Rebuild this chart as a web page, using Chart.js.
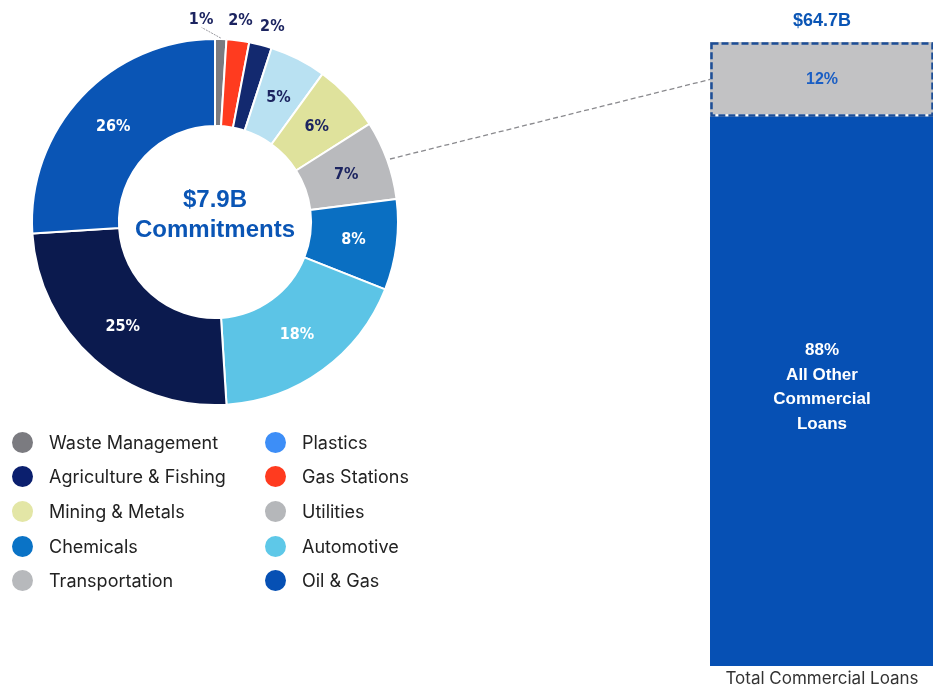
<!DOCTYPE html>
<html lang="en">
<head>
<meta charset="UTF-8">
<title>Commitments vs Total Commercial Loans</title>
<script src="https://cdn.jsdelivr.net/npm/chart.js"></script>
<style>
  html, body { margin: 0; padding: 0; background: #ffffff; overflow: hidden; }
  body { width: 933px; height: 686px; position: relative; font-family: Inter, 'Noto Sans', sans-serif; }
  #donutBox { position: absolute; left: 0; top: 7px; width: 430px; height: 430px; }
  #barBox { position: absolute; left: 710px; top: 0; width: 224px; height: 691px; }
  #overlay { position: absolute; left: 0; top: 0; pointer-events: none; }
  #legend { position: absolute; left: 12px; top: 425px; display: grid; grid-auto-flow: column;
            grid-template-columns: 253px auto; grid-template-rows: repeat(5, 34.6px); }
  .item { display: flex; align-items: center; font-size: 18px; color: #222; }
  .dot { width: 21px; height: 21px; border-radius: 50%; margin-right: 16px; flex: none; }
</style>
</head>
<body>
<div id="donutBox"><canvas id="donutChart"></canvas></div>
<div id="barBox"><canvas id="barChart"></canvas></div>
<div id="legend"></div>
<canvas id="overlay" width="933" height="686"></canvas>

<script>
// Doughnut slices, clockwise from 12 o'clock
const sliceNames = ['Waste Management', 'Gas Stations', 'Plastics', 'Utilities', 'Mining & Metals',
                    'Transportation', 'Chemicals', 'Automotive', 'Agriculture & Fishing', 'Oil & Gas'];
const sliceValues = [1, 2, 2, 5, 6, 7, 8, 18, 25, 26];
const sliceColors = ['#7b7b80', '#ff3b1f', '#13296f', '#b9e1f2', '#dfe29c', '#b9babd',
                     '#0a6fc2', '#5cc4e6', '#0b1a4e', '#0a55b5'];
const sliceTextColors = ['#1c2460', '#1c2460', '#1c2460', '#1c2460', '#1c2460', '#1c2460',
                         '#ffffff', '#ffffff', '#ffffff', '#ffffff'];
const centerLines = ['$7.9B', 'Commitments'];

// Legend (two columns, top to bottom)
const legendLabels = ['Waste Management', 'Agriculture & Fishing', 'Mining & Metals', 'Chemicals', 'Transportation',
                      'Plastics', 'Gas Stations', 'Utilities', 'Automotive', 'Oil & Gas'];
const legendColors = ['#7b7b80', '#0b1f6e', '#e3e6a6', '#0a73c6', '#b7b9bc',
                      '#3d8ef7', '#ff3b1f', '#b5b7ba', '#5ec8e8', '#0650b4'];

// Stacked bar
const barCategories = ['Total Commercial Loans'];
const otherShare = [88];
const focusShare = [12];
const barTotal = '$64.7B';
const otherLines = ['88%', 'All Other', 'Commercial', 'Loans'];

const legendEl = document.getElementById('legend');
legendLabels.forEach((name, i) => {
  const row = document.createElement('div');
  row.className = 'item';
  row.innerHTML = '<span class="dot" style="background:' + legendColors[i] + '"></span>' + name;
  legendEl.appendChild(row);
});

const labelFont = "bold 16px 'DejaVu Sans Condensed', 'Liberation Sans Narrow', 'Roboto', sans-serif";
// small outside labels get a slight angular nudge so they don't collide
const outsideNudge = [-0.1, 0, 0.035];

const donutLabels = {
  id: 'donutLabels',
  afterDatasetsDraw(chart) {
    const ctx = chart.ctx;
    const arcs = chart.getDatasetMeta(0).data;
    ctx.save();
    ctx.textAlign = 'center';
    ctx.textBaseline = 'middle';
    ctx.font = labelFont;
    arcs.forEach((arc, i) => {
      const a0 = (arc.startAngle + arc.endAngle) / 2;
      let angle = a0;
      let r = (arc.innerRadius + arc.outerRadius) / 2;
      if (sliceValues[i] < 3) {
        r = arc.outerRadius + 20;
        angle += outsideNudge[i] || 0;
        if (i === 0) {
          ctx.strokeStyle = '#9a9aa0';
          ctx.lineWidth = 1;
          ctx.setLineDash([2, 1]);
          ctx.beginPath();
          ctx.moveTo(arc.x + Math.cos(a0) * (arc.outerRadius + 1), arc.y + Math.sin(a0) * (arc.outerRadius + 1));
          ctx.lineTo(arc.x + Math.cos(angle) * (r - 8), arc.y + Math.sin(angle) * (r - 8));
          ctx.stroke();
          ctx.setLineDash([]);
        }
      }
      ctx.fillStyle = sliceTextColors[i];
      ctx.fillText(sliceValues[i] + '%', arc.x + Math.cos(angle) * r, arc.y + Math.sin(angle) * r);
    });
    const c = arcs[0];
    ctx.fillStyle = '#0a55b5';
    ctx.font = "bold 24px 'Liberation Sans', Arial, sans-serif";
    ctx.fillText(centerLines[0], c.x, c.y - 22);
    ctx.fillText(centerLines[1], c.x, c.y + 8);
    ctx.restore();
  }
};

const donutChart = new Chart(document.getElementById('donutChart'), {
  type: 'doughnut',
  data: {
    labels: sliceNames,
    datasets: [{
      data: sliceValues,
      backgroundColor: sliceColors,
      borderColor: '#ffffff',
      borderWidth: 2
    }]
  },
  options: {
    responsive: true,
    maintainAspectRatio: false,
    animation: false,
    cutout: '52.5%',
    layout: { padding: 31 },
    plugins: { legend: { display: false }, tooltip: { enabled: false } }
  },
  plugins: [donutLabels]
});

const barLabels = {
  id: 'barLabels',
  afterDatasetsDraw(chart) {
    const ctx = chart.ctx;
    const top = chart.getDatasetMeta(1).data[0];
    const low = chart.getDatasetMeta(0).data[0];
    const left = top.x - top.width / 2;
    ctx.save();
    ctx.setLineDash([7, 3]);
    ctx.lineWidth = 2.5;
    ctx.strokeStyle = '#1d4e96';
    ctx.strokeRect(left + 1.5, top.y + 1.5, top.width - 3, top.base - top.y - 3);
    ctx.setLineDash([]);
    ctx.textAlign = 'center';
    ctx.textBaseline = 'middle';
    ctx.font = "bold 18px 'Liberation Sans', Arial, sans-serif";
    ctx.fillStyle = '#0a55b5';
    ctx.fillText(barTotal, top.x, top.y - 21);
    ctx.font = "bold 16px 'Liberation Sans', Arial, sans-serif";
    ctx.fillStyle = '#1a5ec4';
    ctx.fillText(focusShare[0] + '%', top.x, (top.y + top.base) / 2);
    ctx.font = "bold 17px 'Liberation Sans', Arial, sans-serif";
    ctx.fillStyle = '#ffffff';
    const midY = (low.y + low.base) / 2 - 4;
    otherLines.forEach((t, k) => {
      ctx.fillText(t, low.x, midY + (k - 1.5) * 24.5);
    });
    ctx.restore();
  }
};

const barChart = new Chart(document.getElementById('barChart'), {
  type: 'bar',
  data: {
    labels: barCategories,
    datasets: [
      { data: otherShare, backgroundColor: '#0650b4', borderWidth: 0 },
      { data: focusShare, backgroundColor: '#c2c2c4', borderColor: '#ffffff',
        borderWidth: { top: 0, left: 0, right: 0, bottom: 3 }, borderSkipped: false }
    ]
  },
  options: {
    responsive: true,
    maintainAspectRatio: false,
    animation: false,
    layout: { padding: { top: 42, bottom: 0, left: 0, right: 0 } },
    datasets: { bar: { barPercentage: 1, categoryPercentage: 1 } },
    scales: {
      x: {
        stacked: true,
        grid: { display: false, drawTicks: false },
        border: { display: false },
        ticks: { padding: 4, color: '#333', font: { family: 'Inter', size: 17, lineHeight: 1 } }
      },
      y: { stacked: true, display: false, min: 0, max: 100 }
    },
    plugins: { legend: { display: false }, tooltip: { enabled: false } }
  },
  plugins: [barLabels]
});

// Dashed connector from the highlighted slice to the highlighted bar segment
function drawConnector() {
  const arc = donutChart.getDatasetMeta(0).data[5];
  const seg = barChart.getDatasetMeta(1).data[0];
  const donutBox = document.getElementById('donutBox');
  const barBox = document.getElementById('barBox');
  const a = (arc.startAngle + arc.endAngle) / 2;
  const x1 = donutBox.offsetLeft + arc.x + Math.cos(a) * (arc.outerRadius + 3);
  const y1 = donutBox.offsetTop + arc.y + Math.sin(a) * (arc.outerRadius + 3);
  const x2 = barBox.offsetLeft + seg.x - seg.width / 2;
  const y2 = barBox.offsetTop + (seg.y + seg.base) / 2;
  const ctx = document.getElementById('overlay').getContext('2d');
  ctx.clearRect(0, 0, 933, 686);
  ctx.strokeStyle = '#8a8a8e';
  ctx.lineWidth = 1.3;
  ctx.setLineDash([5, 3]);
  ctx.beginPath();
  ctx.moveTo(x1, y1);
  ctx.lineTo(x2, y2);
  ctx.stroke();
}
drawConnector();
</script>
</body>
</html>
